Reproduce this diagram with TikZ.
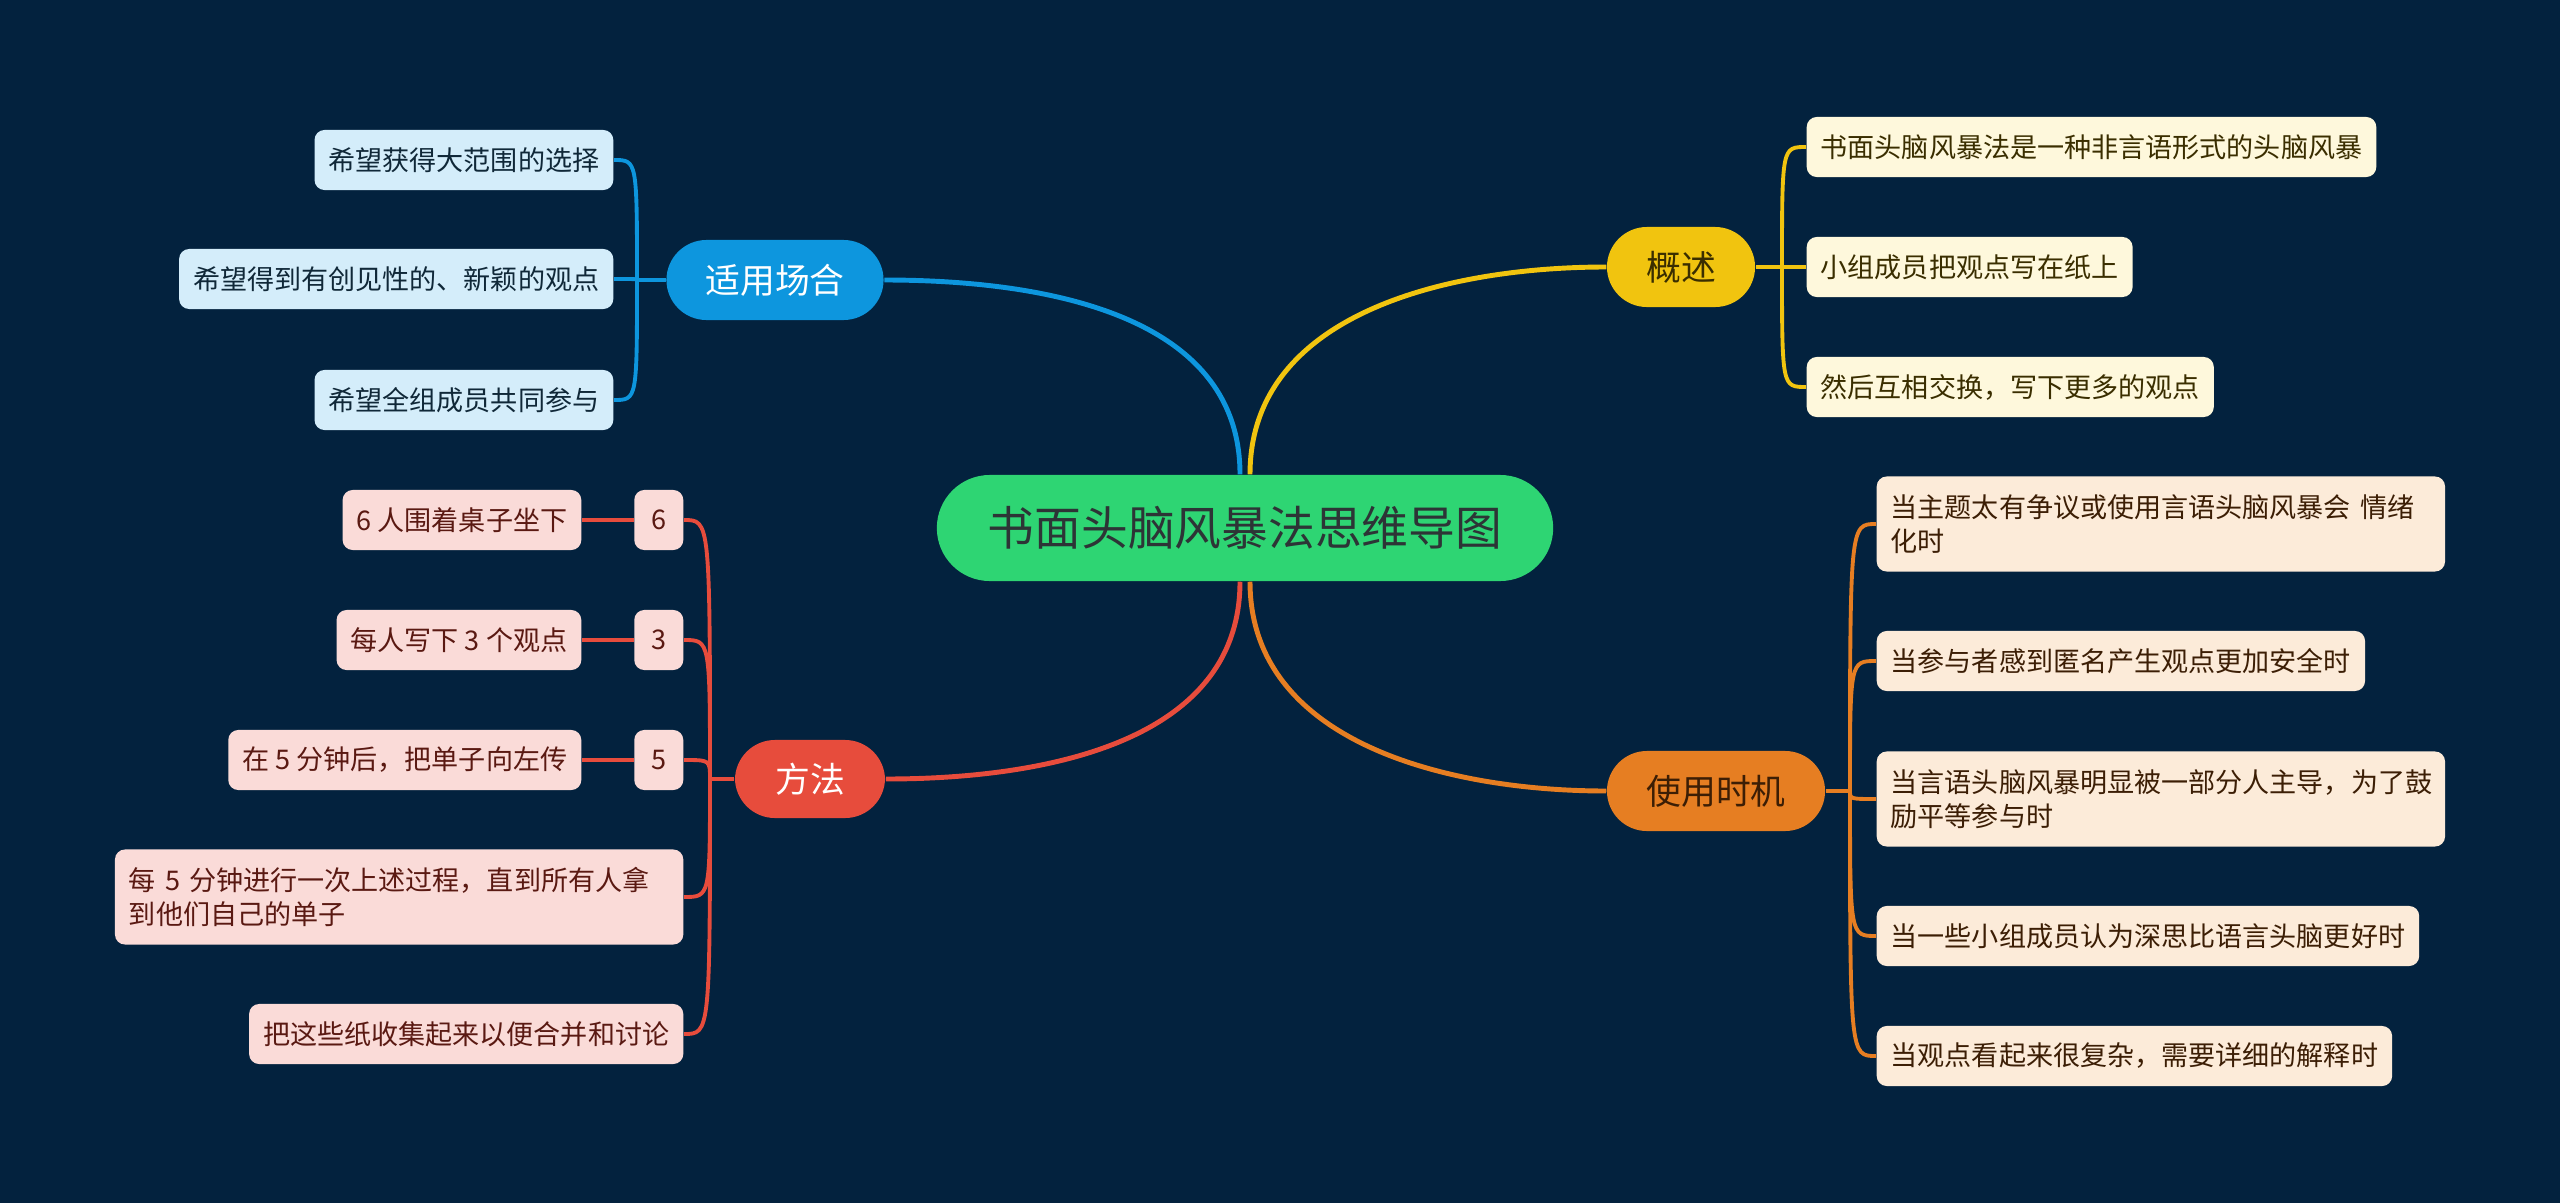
\documentclass[tikz,border=0pt]{standalone}
\usepackage{fontspec}
\newfontfamily\cjk{Noto Sans CJK SC}
\usepackage{xcolor}
\usepackage{tikz}

\definecolor{bg}{RGB}{3,34,62}
\definecolor{rootgreen}{RGB}{46,213,115}
\definecolor{roottext}{RGB}{45,52,54}
\definecolor{scblue}{RGB}{13,150,222}
\definecolor{scleaf}{RGB}{212,237,250}
\definecolor{sctext}{RGB}{16,40,56}
\definecolor{sugold}{RGB}{241,196,15}
\definecolor{suleaf}{RGB}{254,248,220}
\definecolor{sutext}{RGB}{58,46,0}
\definecolor{mered}{RGB}{231,76,60}
\definecolor{meleaf}{RGB}{250,219,216}
\definecolor{metext}{RGB}{90,25,18}
\definecolor{whorange}{RGB}{230,126,34}
\definecolor{whleaf}{RGB}{252,235,217}
\definecolor{whtext}{RGB}{60,30,5}

\tikzset{
  rootbox/.style={rounded corners=0.53cm, fill=rootgreen, text=roottext, font=\cjk\fontsize{13.3}{15}\selectfont,
    minimum width=6.16cm, minimum height=1.06cm, inner sep=0pt},
  branchbox/.style={rounded corners=0.4cm, minimum height=0.8cm, inner sep=0pt, font=\cjk\fontsize{9.9}{12}\selectfont},
  leafbox/.style={rounded corners=0.1cm, minimum height=0.6cm, inner xsep=0.14cm, inner ysep=0pt,
    font=\cjk\fontsize{7.7}{9.6}\selectfont},
  twoline/.style={text width=5.4cm, align=left, minimum height=0.95cm},
  tagbox/.style={leafbox, minimum width=0.49cm, inner xsep=0pt},
  mainlink/.style={line width=1.4pt},
  leaflink/.style={line width=1.1pt},
}

\begin{document}
\begin{tikzpicture}[x=0.01cm,y=-0.01cm]
    \fill[bg] (0,0) rectangle (2560,1203);

    \node[rootbox] (root) at (1245,528) {书面头脑风暴法思维导图};

    \node[branchbox, fill=scblue, text=white, minimum width=2.17cm] (scene) at (775,280) {适用场合};
    \node[branchbox, fill=sugold, text=sutext, minimum width=1.48cm] (summ) at (1681,267) {概述};
    \node[branchbox, fill=mered, text=white, minimum width=1.5cm, minimum height=0.78cm] (meth) at (810,779) {方法};
    \node[branchbox, fill=whorange, text=whtext, minimum width=2.18cm] (when) at (1716,791) {使用时机};

    \draw[mainlink, scblue] ([xshift=-0.05cm]root.north) .. controls +(0,-160) and +(160,0) .. (scene.east);
    \draw[mainlink, sugold] ([xshift=0.05cm]root.north) .. controls +(0,-160) and +(-160,0) .. (summ.west);
    \draw[mainlink, mered] ([xshift=-0.05cm]root.south) .. controls +(0,160) and +(160,0) .. (meth.east);
    \draw[mainlink, whorange] ([xshift=0.05cm]root.south) .. controls +(0,160) and +(-160,0) .. (when.west);

    % 适用场合
    \node[leafbox, fill=scleaf, text=sctext, anchor=east] (sc1) at (614,160) {希望获得大范围的选择};
    \node[leafbox, fill=scleaf, text=sctext, anchor=east] (sc2) at (614,279) {希望得到有创见性的、新颖的观点};
    \node[leafbox, fill=scleaf, text=sctext, anchor=east] (sc3) at (614,400) {希望全组成员共同参与};
    \coordinate (jsc) at (637,280);
    \draw[leaflink, scblue] (scene.west) -- (jsc);
    \draw[leaflink, scblue] (jsc) .. controls (jsc |- sc1.east) .. (sc1.east);
    \draw[leaflink, scblue] (jsc) .. controls (jsc |- sc2.east) .. (sc2.east);
    \draw[leaflink, scblue] (jsc) .. controls (jsc |- sc3.east) .. (sc3.east);

    % 概述
    \node[leafbox, fill=suleaf, text=sutext, anchor=west] (su1) at (1806,147) {书面头脑风暴法是一种非言语形式的头脑风暴};
    \node[leafbox, fill=suleaf, text=sutext, anchor=west] (su2) at (1806,267) {小组成员把观点写在纸上};
    \node[leafbox, fill=suleaf, text=sutext, anchor=west] (su3) at (1806,387) {然后互相交换，写下更多的观点};
    \coordinate (jsu) at (1782,267);
    \draw[leaflink, sugold] (summ.east) -- (jsu);
    \draw[leaflink, sugold] (jsu) .. controls (jsu |- su1.west) .. (su1.west);
    \draw[leaflink, sugold] (jsu) .. controls (jsu |- su2.west) .. (su2.west);
    \draw[leaflink, sugold] (jsu) .. controls (jsu |- su3.west) .. (su3.west);

    % 方法
    \node[tagbox, fill=meleaf, text=metext, anchor=east] (tg1) at (684,520) {6};
    \node[tagbox, fill=meleaf, text=metext, anchor=east] (tg2) at (684,640) {3};
    \node[tagbox, fill=meleaf, text=metext, anchor=east] (tg3) at (684,760) {5};
    \node[leafbox, fill=meleaf, text=metext, anchor=east] (me1) at (582,520) {6 人围着桌子坐下};
    \node[leafbox, fill=meleaf, text=metext, anchor=east] (me2) at (582,640) {每人写下 3 个观点};
    \node[leafbox, fill=meleaf, text=metext, anchor=east] (me3) at (582,760) {在 5 分钟后，把单子向左传};
    \node[leafbox, twoline, fill=meleaf, text=metext, anchor=east] (me4) at (684,897)
        {每 5 分钟进行一次上述过程，直到所有人拿\\到他们自己的单子};
    \node[leafbox, fill=meleaf, text=metext, anchor=east] (me5) at (684,1034) {把这些纸收集起来以便合并和讨论};
    \coordinate (jme) at (710,779);
    \draw[leaflink, mered] (meth.west) -- (jme);
    \draw[leaflink, mered] (jme) .. controls (jme |- tg1.east) .. (tg1.east);
    \draw[leaflink, mered] (jme) .. controls (jme |- tg2.east) .. (tg2.east);
    \draw[leaflink, mered] (jme) .. controls (jme |- tg3.east) .. (tg3.east);
    \draw[leaflink, mered] (jme) .. controls (jme |- me4.east) .. (me4.east);
    \draw[leaflink, mered] (jme) .. controls (jme |- me5.east) .. (me5.east);
    \draw[mainlink, mered] (tg1.west) -- (me1.east);
    \draw[mainlink, mered] (tg2.west) -- (me2.east);
    \draw[mainlink, mered] (tg3.west) -- (me3.east);

    % 使用时机
    \node[leafbox, twoline, fill=whleaf, text=whtext, anchor=west] (wh1) at (1876,524)
        {当主题太有争议或使用言语头脑风暴会 情绪\\化时};
    \node[leafbox, fill=whleaf, text=whtext, anchor=west] (wh2) at (1876,661) {当参与者感到匿名产生观点更加安全时};
    \node[leafbox, twoline, fill=whleaf, text=whtext, anchor=west] (wh3) at (1876,799)
        {当言语头脑风暴明显被一部分人主导，为了鼓\\励平等参与时};
    \node[leafbox, fill=whleaf, text=whtext, anchor=west] (wh4) at (1876,936) {当一些小组成员认为深思比语言头脑更好时};
    \node[leafbox, fill=whleaf, text=whtext, anchor=west] (wh5) at (1876,1056) {当观点看起来很复杂，需要详细的解释时};
    \coordinate (jwh) at (1850,791);
    \draw[leaflink, whorange] (when.east) -- (jwh);
    \draw[leaflink, whorange] (jwh) .. controls (jwh |- wh1.west) .. (wh1.west);
    \draw[leaflink, whorange] (jwh) .. controls (jwh |- wh2.west) .. (wh2.west);
    \draw[leaflink, whorange] (jwh) .. controls (jwh |- wh3.west) .. (wh3.west);
    \draw[leaflink, whorange] (jwh) .. controls (jwh |- wh4.west) .. (wh4.west);
    \draw[leaflink, whorange] (jwh) .. controls (jwh |- wh5.west) .. (wh5.west);
\end{tikzpicture}
\end{document}
